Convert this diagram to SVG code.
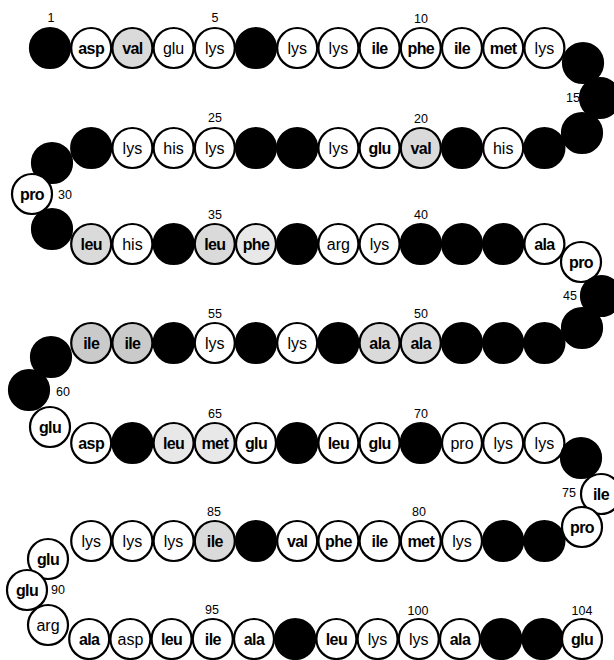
<svg xmlns="http://www.w3.org/2000/svg" width="614" height="660" viewBox="0 0 614 660">
<style>
circle{stroke:#000;stroke-width:2.2}
.b{fill:#000}
.w{fill:#fff}
.g{fill:#dadada}
.g2{fill:#cacaca}
.l{fill:#e8e8e8}
text{font-family:"Liberation Sans",Arial,sans-serif;fill:#000}
.t{font-size:16px;text-anchor:middle}
.tb{font-size:16px;text-anchor:middle;font-weight:bold;letter-spacing:-0.6px}
.n{font-size:12.5px;text-anchor:middle}
.ns{font-size:12.5px;text-anchor:start}
.ne{font-size:12.5px;text-anchor:end}
</style>
<rect width="614" height="660" fill="#fff"/>
<g id="residues">
<g id="r1"><circle class="b" cx="50" cy="48" r="20"/></g>
<g id="r2"><circle class="w" cx="91.2" cy="48" r="20"/><text class="tb" x="91.2" y="54">asp</text></g>
<g id="r3"><circle class="g" cx="132.4" cy="48" r="20"/><text class="tb" x="132.4" y="54">val</text></g>
<g id="r4"><circle class="w" cx="173.6" cy="48" r="20"/><text class="t" x="173.6" y="54">glu</text></g>
<g id="r5"><circle class="w" cx="214.8" cy="48" r="20"/><text class="t" x="214.8" y="54">lys</text></g>
<g id="r6"><circle class="b" cx="256" cy="48" r="20"/></g>
<g id="r7"><circle class="w" cx="297.2" cy="48" r="20"/><text class="t" x="297.2" y="54">lys</text></g>
<g id="r8"><circle class="w" cx="338.4" cy="48" r="20"/><text class="t" x="338.4" y="54">lys</text></g>
<g id="r9"><circle class="w" cx="379.6" cy="48" r="20"/><text class="tb" x="379.6" y="54">ile</text></g>
<g id="r10"><circle class="w" cx="420.8" cy="48" r="20"/><text class="tb" x="420.8" y="54">phe</text></g>
<g id="r11"><circle class="w" cx="462" cy="48" r="20"/><text class="tb" x="462" y="54">ile</text></g>
<g id="r12"><circle class="w" cx="503.2" cy="48" r="20"/><text class="tb" x="503.2" y="54">met</text></g>
<g id="r13"><circle class="w" cx="544.4" cy="48" r="20"/><text class="t" x="544.4" y="54">lys</text></g>
<g id="r14"><circle class="b" cx="583" cy="63" r="20"/></g>
<g id="r15"><circle class="b" cx="600" cy="98" r="20"/></g>
<g id="r16"><circle class="b" cx="582" cy="133" r="20"/></g>
<g id="r17"><circle class="b" cx="544.4" cy="148" r="20"/></g>
<g id="r18"><circle class="w" cx="503.2" cy="148" r="20"/><text class="t" x="503.2" y="154">his</text></g>
<g id="r19"><circle class="b" cx="462" cy="148" r="20"/></g>
<g id="r20"><circle class="g" cx="420.8" cy="148" r="20"/><text class="tb" x="420.8" y="154">val</text></g>
<g id="r21"><circle class="w" cx="379.6" cy="148" r="20"/><text class="tb" x="379.6" y="154">glu</text></g>
<g id="r22"><circle class="w" cx="338.4" cy="148" r="20"/><text class="t" x="338.4" y="154">lys</text></g>
<g id="r23"><circle class="b" cx="297.2" cy="148" r="20"/></g>
<g id="r24"><circle class="b" cx="256" cy="148" r="20"/></g>
<g id="r25"><circle class="w" cx="214.8" cy="148" r="20"/><text class="t" x="214.8" y="154">lys</text></g>
<g id="r26"><circle class="w" cx="173.6" cy="148" r="20"/><text class="t" x="173.6" y="154">his</text></g>
<g id="r27"><circle class="w" cx="132.4" cy="148" r="20"/><text class="t" x="132.4" y="154">lys</text></g>
<g id="r28"><circle class="b" cx="91.2" cy="148" r="20"/></g>
<g id="r29"><circle class="b" cx="52" cy="163" r="20"/></g>
<g id="r30"><circle class="w" cx="32" cy="194" r="20"/><text class="tb" x="32" y="200">pro</text></g>
<g id="r31"><circle class="b" cx="52" cy="229" r="20"/></g>
<g id="r32"><circle class="g" cx="91.2" cy="244" r="20"/><text class="tb" x="91.2" y="250">leu</text></g>
<g id="r33"><circle class="w" cx="132.4" cy="244" r="20"/><text class="t" x="132.4" y="250">his</text></g>
<g id="r34"><circle class="b" cx="173.6" cy="244" r="20"/></g>
<g id="r35"><circle class="g" cx="214.8" cy="244" r="20"/><text class="tb" x="214.8" y="250">leu</text></g>
<g id="r36"><circle class="l" cx="256" cy="244" r="20"/><text class="tb" x="256" y="250">phe</text></g>
<g id="r37"><circle class="b" cx="297.2" cy="244" r="20"/></g>
<g id="r38"><circle class="w" cx="338.4" cy="244" r="20"/><text class="t" x="338.4" y="250">arg</text></g>
<g id="r39"><circle class="w" cx="379.6" cy="244" r="20"/><text class="t" x="379.6" y="250">lys</text></g>
<g id="r40"><circle class="b" cx="420.8" cy="244" r="20"/></g>
<g id="r41"><circle class="b" cx="462" cy="244" r="20"/></g>
<g id="r42"><circle class="b" cx="503.2" cy="244" r="20"/></g>
<g id="r43"><circle class="w" cx="544.4" cy="244" r="20"/><text class="tb" x="544.4" y="250">ala</text></g>
<g id="r44"><circle class="w" cx="581" cy="262" r="20"/><text class="tb" x="581" y="268">pro</text></g>
<g id="r45"><circle class="b" cx="601" cy="296" r="20"/></g>
<g id="r46"><circle class="b" cx="582" cy="328" r="20"/></g>
<g id="r47"><circle class="b" cx="544.4" cy="343" r="20"/></g>
<g id="r48"><circle class="b" cx="503.2" cy="343" r="20"/></g>
<g id="r49"><circle class="b" cx="462" cy="343" r="20"/></g>
<g id="r50"><circle class="g" cx="420.8" cy="343" r="20"/><text class="tb" x="420.8" y="349">ala</text></g>
<g id="r51"><circle class="g" cx="379.6" cy="343" r="20"/><text class="tb" x="379.6" y="349">ala</text></g>
<g id="r52"><circle class="b" cx="338.4" cy="343" r="20"/></g>
<g id="r53"><circle class="w" cx="297.2" cy="343" r="20"/><text class="t" x="297.2" y="349">lys</text></g>
<g id="r54"><circle class="b" cx="256" cy="343" r="20"/></g>
<g id="r55"><circle class="w" cx="214.8" cy="343" r="20"/><text class="t" x="214.8" y="349">lys</text></g>
<g id="r56"><circle class="b" cx="173.6" cy="343" r="20"/></g>
<g id="r57"><circle class="g2" cx="132.4" cy="343" r="20"/><text class="tb" x="132.4" y="349">ile</text></g>
<g id="r58"><circle class="g2" cx="91.2" cy="343" r="20"/><text class="tb" x="91.2" y="349">ile</text></g>
<g id="r59"><circle class="b" cx="51" cy="357" r="20"/></g>
<g id="r60"><circle class="b" cx="29" cy="390" r="20"/></g>
<g id="r61"><circle class="w" cx="50" cy="427" r="20"/><text class="tb" x="50" y="433">glu</text></g>
<g id="r62"><circle class="w" cx="91.2" cy="443" r="20"/><text class="tb" x="91.2" y="449">asp</text></g>
<g id="r63"><circle class="b" cx="132.4" cy="443" r="20"/></g>
<g id="r64"><circle class="l" cx="173.6" cy="443" r="20"/><text class="tb" x="173.6" y="449">leu</text></g>
<g id="r65"><circle class="l" cx="214.8" cy="443" r="20"/><text class="tb" x="214.8" y="449">met</text></g>
<g id="r66"><circle class="w" cx="256" cy="443" r="20"/><text class="tb" x="256" y="449">glu</text></g>
<g id="r67"><circle class="b" cx="297.2" cy="443" r="20"/></g>
<g id="r68"><circle class="w" cx="338.4" cy="443" r="20"/><text class="tb" x="338.4" y="449">leu</text></g>
<g id="r69"><circle class="w" cx="379.6" cy="443" r="20"/><text class="tb" x="379.6" y="449">glu</text></g>
<g id="r70"><circle class="b" cx="420.8" cy="443" r="20"/></g>
<g id="r71"><circle class="w" cx="462" cy="443" r="20"/><text class="t" x="462" y="449">pro</text></g>
<g id="r72"><circle class="w" cx="503.2" cy="443" r="20"/><text class="t" x="503.2" y="449">lys</text></g>
<g id="r73"><circle class="w" cx="544.4" cy="443" r="20"/><text class="t" x="544.4" y="449">lys</text></g>
<g id="r74"><circle class="b" cx="581" cy="458" r="20"/></g>
<g id="r75"><circle class="w" cx="601" cy="494" r="20"/><text class="tb" x="601" y="500">ile</text></g>
<g id="r76"><circle class="w" cx="582" cy="527" r="20"/><text class="tb" x="582" y="533">pro</text></g>
<g id="r77"><circle class="b" cx="544.4" cy="541" r="20"/></g>
<g id="r78"><circle class="b" cx="503.2" cy="541" r="20"/></g>
<g id="r79"><circle class="w" cx="462" cy="541" r="20"/><text class="t" x="462" y="547">lys</text></g>
<g id="r80"><circle class="w" cx="420.8" cy="541" r="20"/><text class="tb" x="420.8" y="547">met</text></g>
<g id="r81"><circle class="w" cx="379.6" cy="541" r="20"/><text class="tb" x="379.6" y="547">ile</text></g>
<g id="r82"><circle class="w" cx="338.4" cy="541" r="20"/><text class="tb" x="338.4" y="547">phe</text></g>
<g id="r83"><circle class="w" cx="297.2" cy="541" r="20"/><text class="tb" x="297.2" y="547">val</text></g>
<g id="r84"><circle class="b" cx="256" cy="541" r="20"/></g>
<g id="r85"><circle class="g" cx="214.8" cy="541" r="20"/><text class="tb" x="214.8" y="547">ile</text></g>
<g id="r86"><circle class="w" cx="173.6" cy="541" r="20"/><text class="t" x="173.6" y="547">lys</text></g>
<g id="r87"><circle class="w" cx="132.4" cy="541" r="20"/><text class="t" x="132.4" y="547">lys</text></g>
<g id="r88"><circle class="w" cx="91.2" cy="541" r="20"/><text class="t" x="91.2" y="547">lys</text></g>
<g id="r89"><circle class="w" cx="48" cy="559" r="20"/><text class="tb" x="48" y="565">glu</text></g>
<g id="r90"><circle class="w" cx="27" cy="590" r="20"/><text class="tb" x="27" y="596">glu</text></g>
<g id="r91"><circle class="w" cx="48" cy="625" r="20"/><text class="t" x="48" y="631">arg</text></g>
<g id="r92"><circle class="w" cx="89.2" cy="639" r="20"/><text class="tb" x="89.2" y="645">ala</text></g>
<g id="r93"><circle class="w" cx="130.4" cy="639" r="20"/><text class="t" x="130.4" y="645">asp</text></g>
<g id="r94"><circle class="w" cx="171.6" cy="639" r="20"/><text class="tb" x="171.6" y="645">leu</text></g>
<g id="r95"><circle class="w" cx="212.8" cy="639" r="20"/><text class="tb" x="212.8" y="645">ile</text></g>
<g id="r96"><circle class="w" cx="254" cy="639" r="20"/><text class="tb" x="254" y="645">ala</text></g>
<g id="r97"><circle class="b" cx="295.2" cy="639" r="20"/></g>
<g id="r98"><circle class="w" cx="336.4" cy="639" r="20"/><text class="tb" x="336.4" y="645">leu</text></g>
<g id="r99"><circle class="w" cx="377.6" cy="639" r="20"/><text class="t" x="377.6" y="645">lys</text></g>
<g id="r100"><circle class="w" cx="418.8" cy="639" r="20"/><text class="t" x="418.8" y="645">lys</text></g>
<g id="r101"><circle class="w" cx="460" cy="639" r="20"/><text class="tb" x="460" y="645">ala</text></g>
<g id="r102"><circle class="b" cx="501.2" cy="639" r="20"/></g>
<g id="r103"><circle class="b" cx="542.4" cy="639" r="20"/></g>
<g id="r104"><circle class="w" cx="582" cy="639" r="20"/><text class="tb" x="582" y="645">glu</text></g>
</g>
<g id="numbers">
<text class="n" x="51" y="22">1</text>
<text class="n" x="215" y="22">5</text>
<text class="n" x="421" y="23">10</text>
<text class="ne" x="580" y="102">15</text>
<text class="n" x="421" y="123">20</text>
<text class="n" x="215" y="122">25</text>
<text class="ns" x="58" y="199">30</text>
<text class="n" x="215" y="219">35</text>
<text class="n" x="421" y="219">40</text>
<text class="ne" x="577" y="300">45</text>
<text class="n" x="421" y="318">50</text>
<text class="n" x="215" y="318">55</text>
<text class="ns" x="56" y="396">60</text>
<text class="n" x="215" y="418">65</text>
<text class="n" x="421" y="418">70</text>
<text class="ne" x="576" y="497">75</text>
<text class="n" x="419" y="516">80</text>
<text class="n" x="214" y="516">85</text>
<text class="ns" x="51" y="594">90</text>
<text class="n" x="212" y="614">95</text>
<text class="n" x="418" y="615">100</text>
<text class="n" x="582" y="615">104</text>
</g>
</svg>
